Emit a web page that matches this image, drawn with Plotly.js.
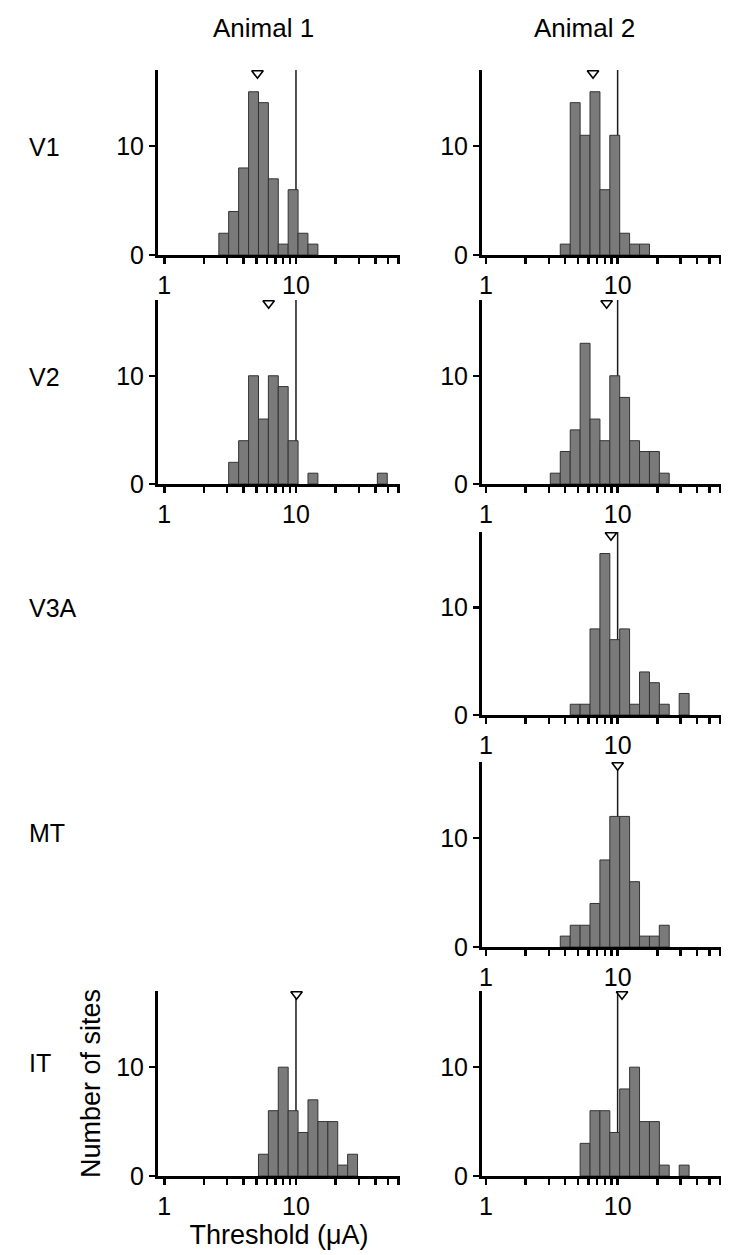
<!DOCTYPE html>
<html>
<head>
<meta charset="utf-8">
<script src="https://cdn.plot.ly/plotly-3.0.1.min.js"></script>
<style>
html, body { margin: 0; padding: 0; background: #ffffff; }
#chart { width: 747px; height: 1255px; }
</style>
</head>
<body>
<div id="chart"></div>
<script>
// ---------------- DATA ----------------
// Quarter-octave histogram bins (bin centres, threshold in µA)
const binCenters = [2.83, 3.36, 4, 4.76, 5.66, 6.73, 8, 9.51, 11.3, 13.45, 16, 19.03, 22.6, 26.9, 32, 38.05, 45.25];

// Number of sites per bin
const countsV1Animal1  = [2, 4, 8, 15, 14, 7, 1, 6, 2, 1, 0, 0, 0, 0, 0, 0, 0];
const countsV1Animal2  = [0, 0, 1, 14, 11, 15, 6, 11, 2, 1, 1, 0, 0, 0, 0, 0, 0];
const countsV2Animal1  = [0, 2, 4, 10, 6, 10, 9, 4, 0, 1, 0, 0, 0, 0, 0, 0, 1];
const countsV2Animal2  = [0, 1, 3, 5, 13, 6, 4, 10, 8, 4, 3, 3, 1, 0, 0, 0, 0];
const countsV3AAnimal2 = [0, 0, 0, 1, 1, 8, 15, 7, 8, 1, 4, 3, 1, 0, 2, 0, 0];
const countsMTAnimal2  = [0, 0, 1, 2, 2, 4, 8, 12, 12, 6, 1, 1, 2, 0, 0, 0, 0];
const countsITAnimal1  = [0, 0, 0, 0, 2, 6, 10, 6, 4, 7, 5, 5, 1, 2, 0, 0, 0];
const countsITAnimal2  = [0, 0, 0, 0, 3, 6, 6, 4, 8, 10, 5, 5, 1, 0, 1, 0, 0];

// Median thresholds (open triangles)
const medianV1Animal1  = 5.1;
const medianV1Animal2  = 6.5;
const medianV2Animal1  = 6.2;
const medianV2Animal2  = 8.25;
const medianV3AAnimal2 = 8.9;
const medianMTAnimal2  = 10.0;
const medianITAnimal1  = 10.1;
const medianITAnimal2  = 10.8;

// Reference line at 10 µA
const referenceThreshold = 10;

// Axis ticks / labels
const xTickValues = [1, 2, 3, 4, 5, 6, 7, 8, 9, 10, 20, 30, 40, 50, 60];
const xTickLabels = ['1', '', '', '', '', '', '', '', '', '10', '', '', '', '', ''];
const yTickValues = [0, 10];
const yTickLabels = ['0', '10'];
const rowLabels = ['V1', 'V2', 'V3A', 'MT', 'IT'];
const columnLabels = ['Animal 1', 'Animal 2'];
const xAxisTitle = 'Threshold (\u03BCA)';
const yAxisTitle = 'Number of sites';

// ---------------- LAYOUT GEOMETRY (pixels) ----------------
const W = 747, H = 1255;
const colPx = [[158, 400], [482, 721]];
const colRange = [[-0.048, 1.79], [-0.030, 1.785]];
const rowPx = [[70, 255], [300, 484], [532, 715], [762, 947], [991, 1176]];
const yMax = 17;
const markerLevel = 16.7;
const rowLabelY = [147, 377, 608, 833, 1063];
const colLabelX = [263, 584];

const panels = [
  { col: 0, row: 0, counts: countsV1Animal1,  median: medianV1Animal1 },
  { col: 1, row: 0, counts: countsV1Animal2,  median: medianV1Animal2 },
  { col: 0, row: 1, counts: countsV2Animal1,  median: medianV2Animal1 },
  { col: 1, row: 1, counts: countsV2Animal2,  median: medianV2Animal2 },
  { col: 1, row: 2, counts: countsV3AAnimal2, median: medianV3AAnimal2 },
  { col: 1, row: 3, counts: countsMTAnimal2,  median: medianMTAnimal2 },
  { col: 0, row: 4, counts: countsITAnimal1,  median: medianITAnimal1, titles: true },
  { col: 1, row: 4, counts: countsITAnimal2,  median: medianITAnimal2 }
];

const FONT = 'Liberation Sans, Arial, Helvetica, sans-serif';
const px2x = p => p / W;
const px2y = p => 1 - p / H;

const traces = [];
const shapes = [];
const layout = {
  width: W, height: H,
  margin: { l: 0, r: 0, t: 0, b: 0, pad: 0 },
  paper_bgcolor: '#ffffff', plot_bgcolor: 'rgba(0,0,0,0)',
  showlegend: false,
  font: { family: FONT, size: 25, color: '#000000' },
  bargap: 0,
  annotations: []
};

const halfStep = Math.pow(2, 1 / 8);

panels.forEach((p, i) => {
  const k = i === 0 ? '' : String(i + 1);
  const xa = 'x' + k, ya = 'y' + k;
  const bx = [], bw = [], by = [];
  binCenters.forEach((c, j) => {
    if (p.counts[j] > 0) {
      const lo = c / halfStep, hi = c * halfStep;
      bx.push((lo + hi) / 2);
      bw.push(hi - lo);
      by.push(p.counts[j]);
    }
  });
  traces.push({
    type: 'bar', x: bx, y: by, width: bw, xaxis: xa, yaxis: ya,
    marker: { color: '#7a7a7a', line: { color: '#333333', width: 1 } },
    hoverinfo: 'x+y'
  });
  traces.push({
    type: 'scatter', mode: 'markers', x: [p.median], y: [markerLevel], xaxis: xa, yaxis: ya,
    marker: { symbol: 'triangle-down', size: 10, color: '#ffffff', line: { color: '#000000', width: 1.6 } },
    cliponaxis: false
  });
  shapes.push({
    type: 'line', xref: xa, yref: ya, layer: 'below',
    x0: referenceThreshold, x1: referenceThreshold, y0: 0, y1: yMax,
    line: { color: '#1a1a1a', width: 1.5 }
  });

  const cp = colPx[p.col], rp = rowPx[p.row];
  const xName = 'xaxis' + k, yName = 'yaxis' + k;
  layout[xName] = {
    type: 'log', anchor: ya, domain: [px2x(cp[0]), px2x(cp[1])], range: colRange[p.col],
    showline: true, linewidth: 3, linecolor: '#000000', mirror: false,
    ticks: 'outside', ticklen: 6, tickwidth: 2.5, tickcolor: '#000000',
    tickmode: 'array', tickvals: xTickValues, ticktext: xTickLabels,
    showgrid: false, zeroline: false, automargin: false, fixedrange: true,
    tickfont: { family: FONT, size: 25, color: '#000000' }
  };
  layout[yName] = {
    anchor: xa, domain: [px2y(rp[1]), px2y(rp[0])], range: [0, yMax],
    showline: true, linewidth: 3, linecolor: '#000000',
    ticks: 'outside', ticklen: 6, tickwidth: 2.5, tickcolor: '#000000',
    tickmode: 'array', tickvals: yTickValues, ticktext: yTickLabels,
    showgrid: false, zeroline: false, automargin: false, fixedrange: true,
    tickfont: { family: FONT, size: 25, color: '#000000' }
  };
  if (p.titles) {
    layout[xName].title = { text: xAxisTitle, font: { family: FONT, size: 27, color: '#000000' }, standoff: 6 };
    layout[yName].title = { text: yAxisTitle, font: { family: FONT, size: 27, color: '#000000' }, standoff: 8 };
  }
});

layout.shapes = shapes;

columnLabels.forEach((t, c) => {
  layout.annotations.push({
    text: t, xref: 'paper', yref: 'paper', x: px2x(colLabelX[c]), y: px2y(28),
    xanchor: 'center', yanchor: 'middle', showarrow: false,
    font: { family: FONT, size: 26, color: '#000000' }
  });
});
rowLabels.forEach((t, r) => {
  layout.annotations.push({
    text: t, xref: 'paper', yref: 'paper', x: px2x(27), y: px2y(rowLabelY[r]),
    xanchor: 'left', yanchor: 'middle', showarrow: false,
    font: { family: FONT, size: 25, color: '#000000' }
  });
});

Plotly.newPlot('chart', traces, layout, { staticPlot: true, displayModeBar: false });
</script>
</body>
</html>
